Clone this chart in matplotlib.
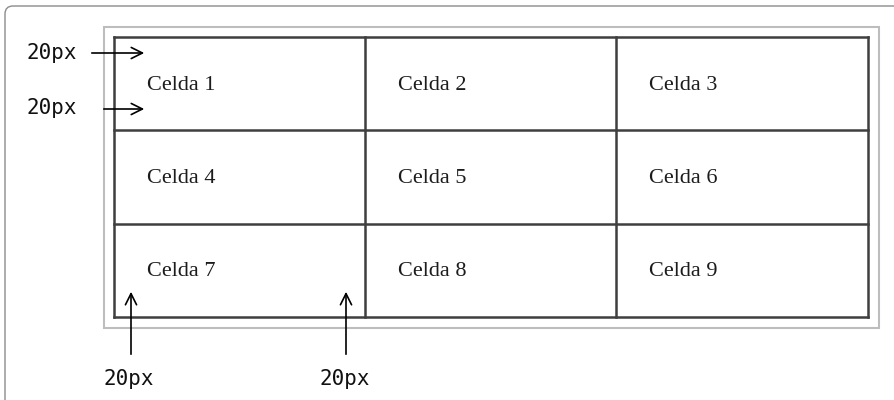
import matplotlib.pyplot as plt
from matplotlib.patches import FancyBboxPatch, Rectangle

# contenido de la tabla
celdas = [["Celda 1", "Celda 2", "Celda 3"],
          ["Celda 4", "Celda 5", "Celda 6"],
          ["Celda 7", "Celda 8", "Celda 9"]]
etiqueta_padding = "20px"

# geometría (en píxeles de la imagen)
x_cols = [114, 365, 616, 868]
y_filas = [37, 130, 224, 317]
pad_texto = 33

fig = plt.figure(figsize=(8.94, 4.0), dpi=100)
ax = fig.add_axes([0, 0, 1, 1])
ax.set_xlim(0, 894)
ax.set_ylim(400, 0)
ax.axis('off')

# marco exterior redondeado
ax.add_patch(FancyBboxPatch((5, 6), 950, 450, boxstyle="round,pad=0,rounding_size=8",
                            fill=False, ec='#8c8c8c', lw=1.0))

# borde claro de la tabla
ax.add_patch(Rectangle((104, 27), 775, 301, fill=False, ec='#bdbdbd', lw=1.5))

# líneas de la tabla
for x in x_cols:
    ax.plot([x, x], [y_filas[0], y_filas[-1]], color='#3f3f3f', lw=1.8, solid_capstyle='projecting')
for y in y_filas:
    ax.plot([x_cols[0], x_cols[-1]], [y, y], color='#3f3f3f', lw=1.8, solid_capstyle='projecting')

# textos de las celdas
for i, fila in enumerate(celdas):
    yc = (y_filas[i] + y_filas[i + 1]) / 2 + 1.5
    for j, texto in enumerate(fila):
        ax.text(x_cols[j] + pad_texto, yc, texto, family='Liberation Serif', fontsize=16,
                color='#1c1c1c', ha='left', va='center')

# flechas de padding
flecha = dict(arrowstyle='->,head_length=0.8,head_width=0.4', color='black', lw=1.2)
ax.annotate('', xy=(147, 53), xytext=(89, 53), arrowprops=flecha)
ax.annotate('', xy=(147, 109), xytext=(101, 109), arrowprops=flecha)
ax.annotate('', xy=(131, 289), xytext=(131, 357), arrowprops=flecha)
ax.annotate('', xy=(346, 289), xytext=(346, 357), arrowprops=flecha)

mono = dict(family='DejaVu Sans Mono', fontsize=15, color='#111111', va='center')
ax.text(26, 53, etiqueta_padding, ha='left', **mono)
ax.text(26, 108, etiqueta_padding, ha='left', **mono)
ax.text(129, 379, etiqueta_padding, ha='center', **mono)
ax.text(345, 379, etiqueta_padding, ha='center', **mono)

plt.savefig('out.png', dpi=100)
